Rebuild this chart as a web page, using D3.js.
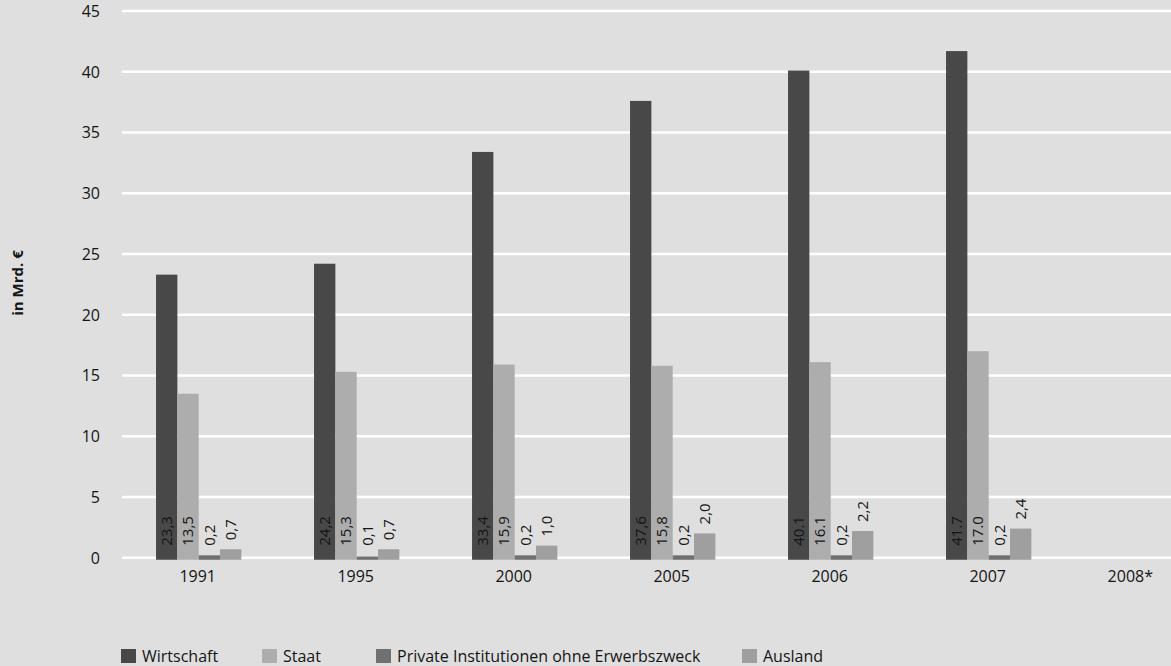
<!DOCTYPE html>
<html>
<head>
<meta charset="utf-8">
<script src="https://cdn.jsdelivr.net/npm/d3@7"></script>
<style>
  html, body { margin: 0; padding: 0; background: #dfdfdf; }
  svg { display: block; font-family: "Open Sans", "DejaVu Sans", sans-serif; }
</style>
</head>
<body>
<svg id="chart" width="1171" height="666"></svg>
<script>
// Ausgaben für Forschung und Entwicklung nach Finanzierungsquelle, in Mrd. €
const years = ["1991", "1995", "2000", "2005", "2006", "2007", "2008*"];
const seriesNames = ["Wirtschaft", "Staat", "Private Institutionen ohne Erwerbszweck", "Ausland"];

const wirtschaft = [23.3, 24.2, 33.4, 37.6, 40.1, 41.7, null];
const staat      = [13.5, 15.3, 15.9, 15.8, 16.1, 17.0, null];
const privat     = [0.2, 0.1, 0.2, 0.2, 0.2, 0.2, null];
const ausland    = [0.7, 0.7, 1.0, 2.0, 2.2, 2.4, null];

// decimal mark as printed for each value
const sepWirtschaft = [",", ",", ",", ",", ".", ".", ","];
const sepStaat      = [",", ",", ",", ",", ".", ".", ","];
const sepPrivat     = [",", ",", ",", ",", ",", ",", ","];
const sepAusland    = [",", ",", ",", ",", ",", ",", ","];

// where each series prints its value: inside at the foot of the bar, or above its top
const labelInside = [true, true, false, false];

const yTicks = [0, 5, 10, 15, 20, 25, 30, 35, 40, 45];
const yTitle = "in Mrd. €";

const colors = ["#484848", "#adadad", "#707070", "#9f9f9f"];

const seriesValues = [wirtschaft, staat, privat, ausland];
const seriesSeps = [sepWirtschaft, sepStaat, sepPrivat, sepAusland];

const W = 1171, H = 666;
const svg = d3.select("#chart");
const textColor = "#151515";

svg.append("rect").attr("width", W).attr("height", H).attr("fill", "#dfdfdf");

// scales
const y = d3.scaleLinear().domain([0, 45]).range([557.75, 11]);
const x0 = d3.scaleBand().domain(years).range([119.7, 1225.7]).paddingInner(0.46).paddingOuter(0.23);
const x1 = d3.scaleBand().domain(d3.range(seriesNames.length)).range([0, x0.bandwidth()]);

const baseline = y(0) + 2;

// gridlines
svg.append("g").selectAll("line").data(yTicks).join("line")
  .attr("x1", 122).attr("x2", W)
  .attr("y1", d => y(d)).attr("y2", d => y(d))
  .attr("stroke", "#ffffff").attr("stroke-width", 2.5);

// y tick labels
svg.append("g").selectAll("text").data(yTicks).join("text")
  .attr("x", 100).attr("y", d => y(d)).attr("dy", "0.36em")
  .attr("text-anchor", "end")
  .attr("font-size", 16).attr("fill", textColor)
  .text(d => d);

// y axis title
svg.append("text")
  .attr("transform", "translate(23,283) rotate(-90)")
  .attr("text-anchor", "middle")
  .attr("font-size", 15).attr("font-weight", "bold").attr("fill", textColor)
  .text(yTitle);

// flatten into bar records
const bars = [];
years.forEach((yr, i) => {
  seriesValues.forEach((vals, s) => {
    if (vals[i] != null) {
      bars.push({ year: yr, s, v: vals[i], label: vals[i].toFixed(1).replace(".", seriesSeps[s][i]) });
    }
  });
});

const groups = svg.append("g");
groups.selectAll("rect").data(bars).join("rect")
  .attr("x", d => x0(d.year) + x1(d.s))
  .attr("width", x1.bandwidth())
  .attr("y", d => y(d.v))
  .attr("height", d => baseline - y(d.v))
  .attr("fill", d => colors[d.s]);

// rotated value labels
groups.selectAll("text").data(bars).join("text")
  .attr("transform", d => {
    const cx = x0(d.year) + x1(d.s) + x1.bandwidth() / 2;
    const ty = labelInside[d.s] ? y(0) - 12 : Math.min(y(d.v) - 9, y(0) - 12);
    return `translate(${cx},${ty}) rotate(-90)`;
  })
  .attr("dy", "0.36em")
  .attr("text-anchor", "start")
  .attr("font-size", 15).attr("fill", textColor)
  .text(d => d.label);

// category labels, kept inside the frame
const xLabels = svg.append("g").selectAll("text").data(years).join("text")
  .attr("x", d => x0(d) + x0.bandwidth() / 2 - 1)
  .attr("y", 582)
  .attr("text-anchor", "middle")
  .attr("font-size", 16).attr("fill", textColor)
  .text(d => d);
xLabels.each(function () {
  const el = d3.select(this);
  const half = this.getComputedTextLength() / 2;
  const cx = +el.attr("x");
  const maxRight = W - 18;
  if (cx + half > maxRight) el.attr("x", maxRight - half);
});

// legend
const legendX = [121, 262, 376, 742];
const legend = svg.append("g").selectAll("g").data(seriesNames).join("g")
  .attr("transform", (d, i) => `translate(${legendX[i]},649)`);
legend.append("rect").attr("width", 15).attr("height", 14).attr("fill", (d, i) => colors[i]);
legend.append("text").attr("x", 21).attr("y", 13)
  .attr("font-size", 16).attr("fill", textColor)
  .text(d => d);
</script>
</body>
</html>
